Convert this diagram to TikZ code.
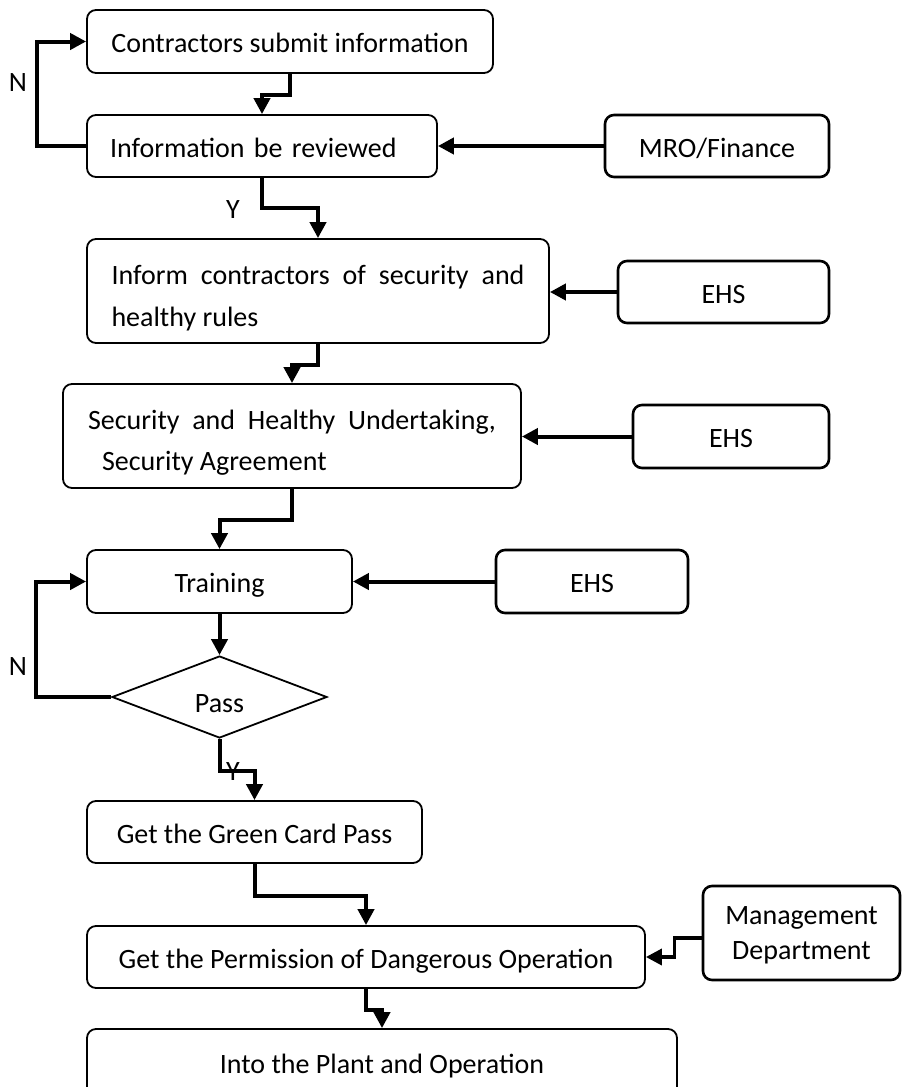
\documentclass[tikz,border=0pt]{standalone}
\usepackage{fontspec}
\setmainfont{Carlito}
\usetikzlibrary{arrows.meta,shapes.geometric}

\tikzset{
  box/.style={draw, line width=1.8pt, rounded corners=9pt, inner sep=0pt,
    font=\fontsize{28}{34}\selectfont, text height=22pt, text depth=0pt},
  sidebox/.style={box, line width=2.6pt},
  decision/.style={draw, diamond, line width=1.8pt, inner sep=0pt, aspect=2.6,
    font=\fontsize{28}{34}\selectfont, text height=30pt, text depth=0pt},
  conn/.style={line width=4pt, -{Triangle[length=16pt,width=16pt]}},
  tag/.style={font=\fontsize{28}{34}\selectfont, inner sep=0pt}
}

\begin{document}
\begin{tikzpicture}[x=1pt, y=-1pt]
  \useasboundingbox (0,0) rectangle (908,1087);
  \fill[white] (0,0) rectangle (908,1087);
  \clip (0,0) rectangle (908,1087);

  % main flow
  \node[box, minimum width=406pt, minimum height=63pt] (A) at (290,41.5)
    {Contractors submit information};
  \node[box, minimum width=350pt, minimum height=62pt, text width=304pt, align=left] (B) at (262,146)
    {Information be reviewed};
  \node[box, minimum width=462pt, minimum height=104pt, align=left,
        font=\fontsize{28}{42}\selectfont, text height=70pt] (C) at (318,291)
    {\makebox[413pt][s]{Inform contractors of security and}\\healthy rules};
  \node[box, minimum width=458pt, minimum height=104pt, align=left,
        font=\fontsize{28}{41}\selectfont, text height=68pt] (D) at (292,436)
    {\makebox[408pt][s]{Security and Healthy Undertaking,}\\\hspace*{14pt}Security Agreement};
  \node[box, minimum width=265pt, minimum height=63pt] (E) at (219.5,581.5) {Training};
  \node[decision, minimum width=215pt, minimum height=82pt] (P) at (219.5,697) {Pass};
  \node[box, minimum width=335pt, minimum height=62pt] (F) at (254.5,832)
    {Get the Green Card Pass};
  \node[box, minimum width=558pt, minimum height=62pt] (G) at (366,957)
    {Get the Permission of Dangerous Operation};
  \node[box, minimum width=590pt, minimum height=67pt] (H) at (382,1062.5)
    {Into the Plant and Operation};

  % responsible departments
  \node[sidebox, minimum width=224pt, minimum height=62pt] (mro) at (717,146) {MRO/Finance};
  \node[sidebox, minimum width=211pt, minimum height=62pt] (ehsA) at (723.5,292) {EHS};
  \node[sidebox, minimum width=196pt, minimum height=63pt] (ehsB) at (731,436.5) {EHS};
  \node[sidebox, minimum width=192pt, minimum height=63pt] (ehsC) at (592,581.5) {EHS};
  \node[sidebox, minimum width=197pt, minimum height=94pt, align=center,
        font=\fontsize{28}{35}\selectfont, text height=53pt] (mgmt) at (801.5,933)
    {Management\\Department};

  % branch labels
  \node[tag] (n1) at (18,83) {N};
  \node[tag] (y1) at (233,210) {Y};
  \node[tag] (n2) at (18,667) {N};
  \node[tag] (y2) at (233,772) {Y};

  % main flow connectors
  \draw[conn] (A.south) -- ++(0,21) -| (B.north);
  \draw[conn] (B.south) -- ++(0,30) -| (C.north);
  \draw[conn] (C.south) -- ++(0,21) -| (D.north);
  \draw[conn] (D.south) -- ++(0,31) -| (E.north);
  \draw[conn] (E.south) -- (P.north);
  \draw[conn] (P.south) -- ++(0,32) -| (F.north);
  \draw[conn] (F.south) -- ++(0,32) -| (G.north);
  \draw[conn] (G.south) -- ++(0,21) -| (H.north);

  % rejection loops
  \draw[conn] (B.west) -- ++(-49,0) |- (A.west);
  \draw[conn] (P.west) -- ++(-75,0) |- (E.west);

  % department inputs
  \draw[conn] (mro.west) -- (B.east);
  \draw[conn] (ehsA.west) -- (ehsA.west -| C.east);
  \draw[conn] (ehsB.west) -- (ehsB.west -| D.east);
  \draw[conn] (ehsC.west) -- (ehsC.west -| E.east);
  \draw[conn, line width=3.5pt] ([yshift=-5pt]mgmt.west) -- ++(-27,0) |- (G.east);
\end{tikzpicture}
\end{document}
